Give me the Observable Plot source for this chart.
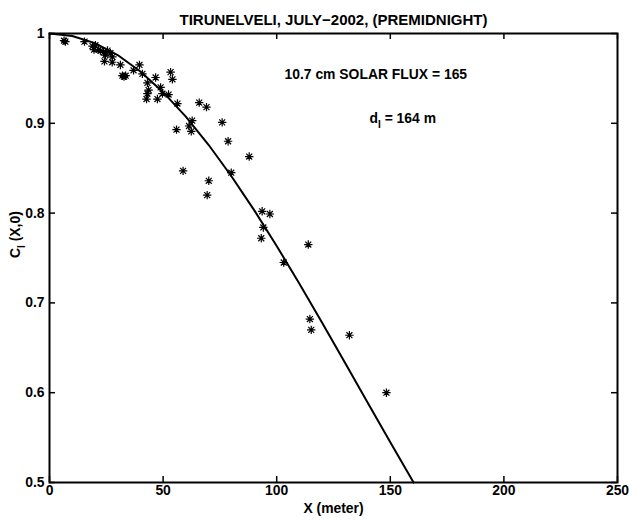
<!DOCTYPE html>
<html><head><meta charset="utf-8">
<script src="https://cdn.jsdelivr.net/npm/d3@7"></script>
<script src="https://cdn.jsdelivr.net/npm/@observablehq/plot@0.6"></script>
<style>
body{margin:0;background:#fff;}
#chart{width:629px;}
</style>
</head><body><div id="chart"></div>
<script>
// Observed coherence points (asterisks)
const distance = [6.4,7.0,15.4,18.9,19.6,21.6,22.4,23.8,24.2,25.5,
  26.8,27.7,27.6,31.2,32.1,32.8,33.5,37.0,39.6,40.9,
  43.1,46.7,43.6,43.1,42.7,47.5,48.9,49.7,52.4,53.3,
  54.1,56.3,55.9,62.8,61.4,62.4,65.9,69.1,76.0,78.6,
  87.9,58.8,80.0,70.1,69.4,93.6,97.0,94.1,93.2,113.9,
  103.1,114.6,115.2,132.0,148.3,20.2,24.6];
const coherence = [0.992,0.991,0.991,0.986,0.982,0.982,0.981,0.979,0.969,0.981,
  0.978,0.974,0.968,0.965,0.953,0.952,0.953,0.959,0.965,0.955,
  0.945,0.951,0.937,0.933,0.927,0.927,0.940,0.933,0.932,0.957,
  0.949,0.922,0.893,0.903,0.897,0.891,0.923,0.918,0.901,0.880,
  0.863,0.847,0.845,0.836,0.820,0.802,0.799,0.784,0.772,0.765,
  0.745,0.682,0.670,0.664,0.600,0.987,0.976];
// Fitted curve
const fitX = [0,10,20,30,40,50,60,70,80,90,100,110,120,130,140,150,160,160.2];
const fitC = [1,0.9973,0.9893,0.9760,0.9577,0.9347,0.9074,0.8761,0.8413,0.8036,0.7634,0.7213,0.6779,0.6336,0.5891,0.5447,0.5010,0.5];
const xTicks = [0,50,100,150,200,250];
const yTicks = [0.5,0.6,0.7,0.8,0.9,1];
const titleText = "TIRUNELVELI, JULY\u22122002, (PREMIDNIGHT)";
const fluxText = "10.7 cm SOLAR FLUX = 165";
const dText = "d_I = 164 m";
const yLabel = "C_I (X,0)";
const xLabel = "X (meter)";

const points = distance.map((x, i) => ({x, c: coherence[i]}));
const fit = fitX.map((x, i) => ({x, c: fitC[i]}));

// MATLAB-like 8-armed asterisk
const asterisk = {
  draw(ctx, size) {
    const r = Math.sqrt(size / Math.PI);
    const d = r * Math.SQRT1_2;
    ctx.moveTo(-r, 0); ctx.lineTo(r, 0);
    ctx.moveTo(0, -r); ctx.lineTo(0, r);
    ctx.moveTo(-d, -d); ctx.lineTo(d, d);
    ctx.moveTo(-d, d); ctx.lineTo(d, -d);
  }
};

const W = 629, H = 520, mL = 49, mR = 12, mT = 33, mB = 38;
const innerW = W - mL - mR, innerH = H - mT - mB;
const tick = 6;
const font = "Liberation Sans, Arial, Helvetica, sans-serif";
const fs = 13.9;

const plot = Plot.plot({
  width: W,
  height: H,
  marginLeft: mL,
  marginRight: mR,
  marginTop: mT,
  marginBottom: mB,
  style: {fontFamily: font, fontSize: fs + "px", fontWeight: "bold", color: "black", background: "white"},
  x: {domain: [0, 250]},
  y: {domain: [0.5, 1]},
  marks: [
    // inward ticks on all four sides
    Plot.tickX(xTicks, {x: d => d, insetTop: innerH - tick, stroke: "black", strokeWidth: 1.5}),
    Plot.tickX(xTicks, {x: d => d, insetBottom: innerH - tick, stroke: "black", strokeWidth: 1.5}),
    Plot.tickY(yTicks, {y: d => d, insetRight: innerW - tick, stroke: "black", strokeWidth: 1.5}),
    Plot.tickY(yTicks, {y: d => d, insetLeft: innerW - tick, stroke: "black", strokeWidth: 1.5}),
    Plot.line(fit, {x: "x", y: "c", stroke: "black", strokeWidth: 2}),
    Plot.dot(points, {x: "x", y: "c", symbol: asterisk, r: 4.2, stroke: "black", strokeWidth: 1.2, fill: "none"}),
    Plot.axisX(xTicks, {anchor: "bottom", tickSize: 0, tickPadding: 3, fontSize: fs, fontWeight: "bold",
      label: xLabel, labelAnchor: "center", labelArrow: "none", labelOffset: 30}),
    Plot.axisY(yTicks, {anchor: "left", tickSize: 0, tickPadding: 5, tickFormat: d => String(d), fontSize: fs, fontWeight: "bold", label: null}),
    Plot.frame({stroke: "black", strokeWidth: 2}),
    Plot.text([titleText], {frameAnchor: "top", dy: -19, fontSize: 15, fontWeight: "bold", fill: "black"}),
    Plot.text([fluxText], {frameAnchor: "top-left", dx: 235, dy: 36, textAnchor: "start", fontSize: fs, fontWeight: "bold", fill: "black"}),
    Plot.text([dText], {frameAnchor: "top-left", dx: 320, dy: 80, textAnchor: "start", fontSize: fs, fontWeight: "bold", fill: "black"}),
    Plot.text([yLabel], {frameAnchor: "left", dx: -34, rotate: -90, fontSize: fs, fontWeight: "bold", fill: "black"})
  ]
});

// subscripts
d3.select(plot).selectAll("text").each(function() {
  const t = this.textContent;
  if (t === dText || t === yLabel) {
    const [main, rest] = t.split("_");
    const sub = rest[0], tail = rest.slice(1);
    const sel = d3.select(this);
    sel.text(null);
    sel.append("tspan").text(main);
    sel.append("tspan").attr("dy", 5).attr("font-size", fs * 0.72).text(sub);
    sel.append("tspan").attr("dy", -5).text(tail);
  }
});

document.getElementById("chart").appendChild(plot);
</script>
</body></html>
